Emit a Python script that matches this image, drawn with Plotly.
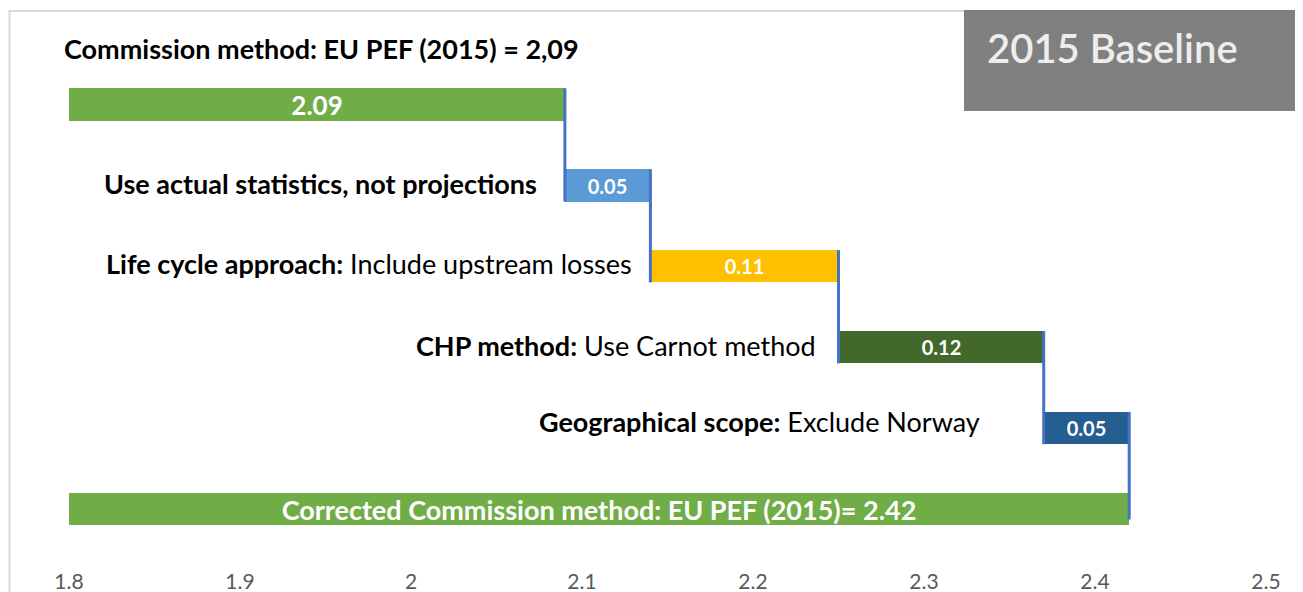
import plotly.graph_objects as go
import numpy as np

# ---- data ----
steps = ["Commission method", "Use actual statistics, not projections",
         "Life cycle approach", "CHP method", "Geographical scope", "Corrected"]
start_value = 1.8
baseline = 2.09
increments = [0.05, 0.11, 0.12, 0.05]
corrected = 2.42
bar_texts = ["2.09", "0.05", "0.11", "0.12", "0.05",
             "Corrected Commission method: EU PEF (2015)= 2.42"]
step_labels = ["<b>Use actual statistics, not projections</b>",
               "<b>Life cycle approach:</b> Include upstream losses",
               "<b>CHP method:</b> Use Carnot method",
               "<b>Geographical scope:</b> Exclude Norway"]
title_text = "<b>Commission method: EU PEF (2015) = 2,09</b>"
badge_text = "2015 Baseline"
x_ticks = [1.8, 1.9, 2.0, 2.1, 2.2, 2.3, 2.4, 2.5]
x_tick_labels = ["1.8", "1.9", "2", "2.1", "2.2", "2.3", "2.4", "2.5"]

# ---- styles ----
colors = ["#70AD47", "#5B9BD5", "#FFC000", "#43682B", "#255E91", "#70AD47"]
text_sizes = [26, 20, 20, 20, 20, 27]
label_xshift = [-26, -16, -21, -62]
label_yshift = [2, 3, 2, 7]
FONT = "Lato"

# waterfall geometry from data
cum = np.cumsum([baseline] + increments)          # 2.09, 2.14, 2.25, 2.37, 2.42
bases = [start_value] + list(cum[:-1]) + [start_value]
lengths = [baseline - start_value] + increments + [corrected - start_value]
ypos = list(range(len(steps)))
bw = 0.40

fig = go.Figure()
fig.add_trace(go.Bar(
    y=ypos, x=lengths, base=bases, orientation="h", width=bw,
    marker=dict(color=colors, line=dict(width=0)),
    text=[f"<b>{t}</b>" for t in bar_texts], textposition="inside",
    insidetextanchor="middle", constraintext="none",
    textfont=dict(color="white", size=text_sizes, family=FONT),
    hoverinfo="skip", showlegend=False,
))

# connector lines
ends = list(cum)
for i, xe in enumerate(ends):
    fig.add_trace(go.Scatter(
        x=[xe, xe], y=[i - bw / 2, i + 1 + bw / 2 - (0.07 if i == len(ends) - 1 else 0)],
        mode="lines", line=dict(color="#4472C4", width=3),
        hoverinfo="skip", showlegend=False,
    ))

annotations = []
for i, lab in enumerate(step_labels):
    annotations.append(dict(
        x=bases[i + 1], y=ypos[i + 1], xref="x", yref="y", text=lab,
        showarrow=False, xanchor="right", yanchor="middle",
        xshift=label_xshift[i], yshift=label_yshift[i],
        font=dict(size=27, color="black", family=FONT),
    ))
annotations.append(dict(
    x=start_value, y=-0.698, xref="x", yref="y", text=title_text,
    showarrow=False, xanchor="left", yanchor="middle", xshift=-7,
    font=dict(size=27, color="black", family=FONT),
))
annotations.append(dict(
    x=0.7655, y=0.931, xref="paper", yref="paper", text=badge_text,
    showarrow=False, xanchor="left", yanchor="middle",
    font=dict(size=40, color="#EDEDED", family=FONT, weight=600),
))

shapes = [
    dict(type="rect", xref="paper", yref="paper", x0=-0.0497, x1=1.0267, y0=-0.2, y1=0.998,
         line=dict(color="#D9D9D9", width=2), fillcolor="rgba(0,0,0,0)", layer="below"),
    dict(type="rect", xref="paper", yref="paper", x0=0.7477, x1=1.0267, y0=0.817, y1=1.0,
         line=dict(width=0), fillcolor="#808080", layer="above"),
]

fig.update_layout(
    width=1303, height=592,
    margin=dict(l=61, r=45, t=2, b=38),
    plot_bgcolor="white", paper_bgcolor="white",
    xaxis=dict(range=[1.8, 2.5], tickvals=x_ticks, ticktext=x_tick_labels,
               showgrid=False, zeroline=False, showline=False, ticks="",
               ticklabelstandoff=5,
               tickfont=dict(size=21, color="#595959", family=FONT)),
    yaxis=dict(range=[5.655, -1.168], showgrid=False, zeroline=False,
               showline=False, showticklabels=False, ticks=""),
    annotations=annotations, shapes=shapes,
    bargap=0,
)

fig.write_html("out.html")
